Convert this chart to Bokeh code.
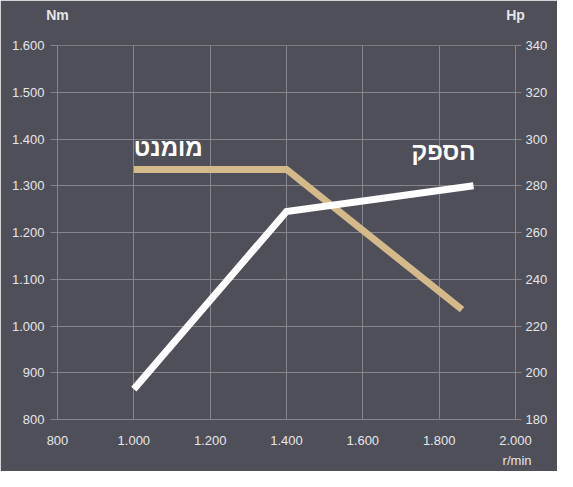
from bokeh.plotting import figure
from bokeh.models import Range1d, LinearAxis, FixedTicker, CustomJSTickFormatter, Label, Title
from bokeh.embed import file_html
from bokeh.resources import INLINE

# data
torque_rpm = [1000, 1400, 1860]
torque_nm = [1335, 1335, 1035]
power_rpm = [1000, 1400, 1890]
power_hp = [193, 269, 280]
x_ticks = [800, 1000, 1200, 1400, 1600, 1800, 2000]
nm_ticks = [800, 900, 1000, 1100, 1200, 1300, 1400, 1500, 1600]
hp_ticks = [180, 200, 220, 240, 260, 280, 300, 320, 340]
unit_titles = {800: "Nm", 2000: "Hp"}

BG = "#4f4f59"
GRID = "#85858d"
TXT = "#e6e6e8"
TAN = "#d4b98a"
FONT = "Liberation Sans"

p = figure(width=557, height=471, output_backend="svg", toolbar_location=None,
           x_range=Range1d(800, 2000), y_range=Range1d(800, 1600),
           background_fill_color=BG, border_fill_color=BG,
           min_border_left=57, min_border_top=45, min_border_right=42, min_border_bottom=46)
p.outline_line_color = None
p.extra_y_ranges = {"hp": Range1d(180, 340)}

fmt = CustomJSTickFormatter(code="return String(tick).replace(/\\B(?=(\\d{3})+(?!\\d))/g, '.');")

for ax in (p.xaxis[0], p.yaxis[0]):
    ax.formatter = fmt
    ax.axis_line_color = GRID
    ax.major_tick_line_color = GRID
    ax.minor_tick_line_color = None
    ax.major_label_text_color = TXT
    ax.major_label_text_font = FONT
    ax.major_label_text_font_size = "13px"
p.xaxis[0].ticker = FixedTicker(ticks=x_ticks)
p.yaxis[0].ticker = FixedTicker(ticks=nm_ticks)
p.xaxis[0].major_tick_out = 0
p.xaxis[0].major_tick_in = 0
p.xaxis[0].major_label_standoff = 16
p.yaxis[0].major_tick_out = 7
p.yaxis[0].major_tick_in = 0
p.yaxis[0].major_label_standoff = 6

right = LinearAxis(y_range_name="hp", ticker=FixedTicker(ticks=hp_ticks), formatter=fmt)
right.axis_line_color = GRID
right.major_tick_line_color = GRID
right.major_tick_out = 6
right.major_tick_in = 0
right.minor_tick_line_color = None
right.major_label_text_color = TXT
right.major_label_text_font = FONT
right.major_label_text_font_size = "13px"
right.major_label_standoff = 4
p.add_layout(right, "right")

# unit titles above the two value axes
top = LinearAxis(ticker=FixedTicker(ticks=list(unit_titles.keys())),
                 major_label_overrides=unit_titles)
top.axis_line_color = None
top.major_tick_line_color = None
top.minor_tick_line_color = None
top.major_label_text_color = TXT
top.major_label_text_font = FONT
top.major_label_text_font_style = "bold"
top.major_label_text_font_size = "14px"
top.major_label_standoff = 17
p.add_layout(top, "above")

p.add_layout(Title(text="r/min", align="right", offset=-16, text_color=TXT, text_font=FONT,
                   text_font_style="normal", text_font_size="13px", standoff=7), "below")

p.xgrid.ticker = FixedTicker(ticks=x_ticks)
p.ygrid.ticker = FixedTicker(ticks=nm_ticks)
p.grid.grid_line_color = GRID
p.grid.grid_line_width = 1

p.line(torque_rpm, torque_nm, line_color=TAN, line_width=7, line_join="miter")
p.line(power_rpm, power_hp, y_range_name="hp", line_color="white", line_width=7, line_join="miter")

p.add_layout(Label(x=torque_rpm[0], y=torque_nm[0], text="מומנט", text_align="left",
                   text_baseline="bottom", y_offset=8, x_offset=0, text_color="white",
                   text_font=FONT, text_font_style="bold", text_font_size="24px"))
p.add_layout(Label(x=power_rpm[-1], y=power_hp[-1], y_range_name="hp", text="הספק",
                   text_align="right", text_baseline="bottom", y_offset=21, x_offset=2,
                   text_color="white", text_font=FONT, text_font_style="bold",
                   text_font_size="24px"))

open("out.html", "w").write(file_html(p, INLINE))
